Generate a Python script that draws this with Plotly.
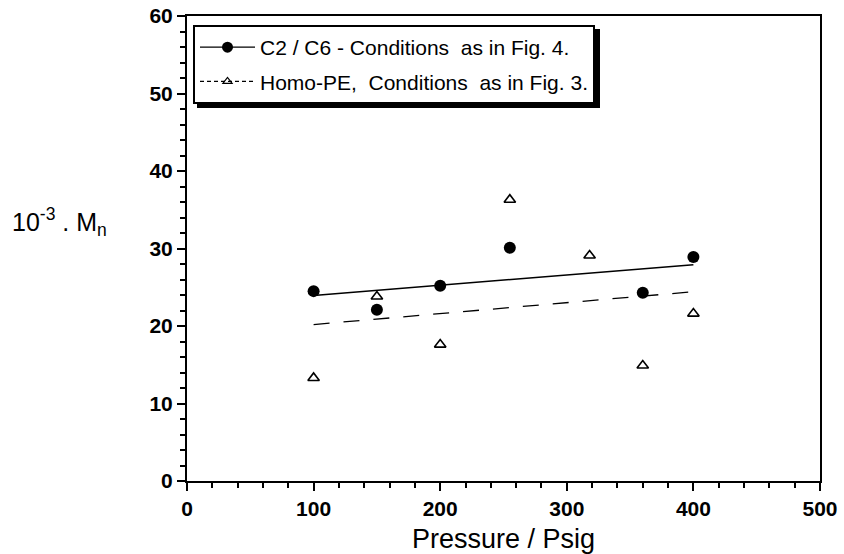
import numpy as np
import plotly.graph_objects as go

# Data
c2c6_x = [100, 150, 200, 255, 360, 400]
c2c6_y = [24.5, 22.1, 25.2, 30.1, 24.3, 28.9]
homo_x = [100, 150, 200, 255, 318, 360, 400]
homo_y = [13.3, 23.8, 17.6, 36.3, 29.1, 14.9, 21.6]
fit_range = [100, 400]

x_ticks = [0, 100, 200, 300, 400, 500]
y_ticks = [0, 10, 20, 30, 40, 50, 60]

name_c2c6 = "C2 / C6 - Conditions  as in Fig. 4."
name_homo = "Homo-PE,  Conditions  as in Fig. 3."

FONT = "Liberation Sans, Arial, Helvetica, sans-serif"

W, H = 844, 554
ML, MR, MT, MB = 187, 24, 16, 73
PW, PH = W - ML - MR, H - MT - MB

def px_x(p):
    return (p - ML) / PW

def px_y(p):
    return (H - MB - p) / PH

def fit_line(xs, ys, rng):
    k, b = np.polyfit(xs, ys, 1)
    xx = np.array(rng, dtype=float)
    return xx, k * xx + b

fx1, fy1 = fit_line(c2c6_x, c2c6_y, fit_range)
fx2, fy2 = fit_line(homo_x, homo_y, fit_range)

fig = go.Figure()

# fit lines
fig.add_trace(go.Scatter(x=fx1, y=fy1, mode="lines", line=dict(color="black", width=1.5),
                         showlegend=False, hoverinfo="skip"))
fig.add_trace(go.Scatter(x=fx2, y=fy2, mode="lines",
                         line=dict(color="black", width=1.3, dash="16px,14px"),
                         showlegend=False, hoverinfo="skip"))
# data points
fig.add_trace(go.Scatter(x=c2c6_x, y=c2c6_y, mode="markers",
                         marker=dict(symbol="circle", size=12, color="black"),
                         showlegend=False))
fig.add_trace(go.Scatter(x=homo_x, y=homo_y, mode="markers",
                         marker=dict(symbol="triangle-up-open", size=10, color="black",
                                     line=dict(width=1.6, color="black")),
                         showlegend=False))
# legend entries
fig.add_trace(go.Scatter(x=[None], y=[None], mode="lines+markers", name=name_c2c6,
                         legendgroup="a",
                         line=dict(color="black", width=1.3),
                         marker=dict(symbol="circle", size=11, color="black")))
fig.add_trace(go.Scatter(x=[None], y=[None], mode="lines+markers", name=name_homo,
                         legendgroup="b",
                         line=dict(color="black", width=1.3, dash="4px,3px"),
                         marker=dict(symbol="triangle-up-open", size=8, color="black",
                                     line=dict(width=1.2, color="black"))))

fig.update_layout(
    width=W, height=H,
    margin=dict(l=ML, r=MR, t=MT, b=MB),
    paper_bgcolor="white", plot_bgcolor="white",
    font=dict(family=FONT, color="black", size=21),
    legend=dict(x=px_x(193), y=px_y(25), xanchor="left", yanchor="top",
                bgcolor="white", bordercolor="black", borderwidth=2,
                font=dict(family=FONT, size=21, color="black"),
                traceorder="grouped", tracegroupgap=4, itemwidth=55),
    xaxis=dict(range=[0, 500], tickvals=x_ticks, ticktext=[str(v) for v in x_ticks],
               automargin=False,
               showgrid=False, zeroline=False, showline=True, linecolor="black", linewidth=2,
               mirror=True, ticks="outside", ticklen=8, tickwidth=2, tickcolor="black",
               minor=dict(dtick=20, ticks="outside", ticklen=5, tickwidth=1.5, tickcolor="black"),
               tickfont=dict(family=FONT, size=21, color="black", weight="bold"),
               title=dict(text="Pressure / Psig", font=dict(family=FONT, size=27, color="black"),
                          standoff=18)),
    yaxis=dict(range=[0, 60], tickvals=y_ticks, ticktext=[str(v) for v in y_ticks],
               automargin=False,
               showgrid=False, zeroline=False, showline=True, linecolor="black", linewidth=2,
               mirror=True, ticks="outside", ticklen=8, tickwidth=2, tickcolor="black",
               minor=dict(dtick=2, ticks="outside", ticklen=5, tickwidth=1.5, tickcolor="black"),
               tickfont=dict(family=FONT, size=21, color="black", weight="bold")),
    shapes=[dict(type="rect", xref="paper", yref="paper",
                 x0=px_x(197), x1=px_x(600), y0=px_y(108), y1=px_y(29),
                 fillcolor="black", line=dict(width=0), layer="above")],
    annotations=[dict(text="10<sup>-3</sup> . M<sub>n</sub>", xref="paper", yref="paper",
                      x=px_x(10), y=px_y(222), xanchor="left", yanchor="middle", showarrow=False,
                      font=dict(family=FONT, size=25, color="black"))],
)

fig.write_html("out.html")
